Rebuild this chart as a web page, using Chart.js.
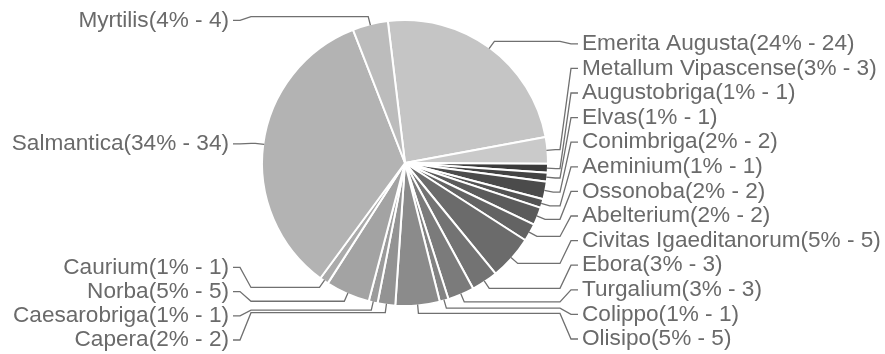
<!DOCTYPE html>
<html>
<head>
<meta charset="utf-8">
<script src="https://cdn.jsdelivr.net/npm/chart.js@4.4.1/dist/chart.umd.min.js"></script>
<style>
  html, body { margin: 0; padding: 0; background: #ffffff; }
  canvas { display: block; }
</style>
</head>
<body>
<canvas id="c" width="885" height="354"></canvas>
<script>
// Slices, clockwise from the top
const categories = [
  'Emerita Augusta', 'Metallum Vipascense', 'Augustobriga', 'Elvas', 'Conimbriga',
  'Aeminium', 'Ossonoba', 'Abelterium', 'Civitas Igaeditanorum', 'Ebora',
  'Turgalium', 'Colippo', 'Olisipo', 'Capera', 'Caesarobriga',
  'Norba', 'Caurium', 'Salmantica', 'Myrtilis'
];
const values = [24, 3, 1, 1, 2, 1, 2, 2, 5, 3, 3, 1, 5, 2, 1, 5, 1, 34, 4];
const sliceColors = [
  '#c5c5c5', '#cacaca', '#3b3b3b', '#434343', '#4b4b4b',
  '#535353', '#5b5b5b', '#636363', '#6b6b6b', '#737373',
  '#7b7b7b', '#838383', '#8b8b8b', '#939393', '#9b9b9b',
  '#a3a3a3', '#ababab', '#b3b3b3', '#bcbcbc'
];

const total = values.reduce((a, b) => a + b, 0);
const labelFont = '22.6px "Liberation Sans", Arial, sans-serif';
const labelColor = '#6a6a6a';
const lineColor = '#707070';

function labelText(i) {
  const pct = Math.round(values[i] / total * 100);
  return categories[i] + '(' + pct + '% - ' + values[i] + ')';
}

// Stack labels on one side: keep order, enforce spacing, clamp to limits
function stack(items, gap, top, bottom) {
  items.sort((a, b) => a.want - b.want);
  let prev = -Infinity;
  items.forEach(it => { it.ly = Math.max(it.want, prev + gap, top); prev = it.ly; });
  let next = Infinity;
  for (let k = items.length - 1; k >= 0; k--) {
    const it = items[k];
    it.ly = Math.min(it.ly, next - gap, bottom);
    next = it.ly;
  }
}

const calloutPlugin = {
  id: 'callouts',
  afterDatasetsDraw(chart) {
    const ctx = chart.ctx;
    const meta = chart.getDatasetMeta(0);
    const items = meta.data.map((arc, i) => {
      const p = arc.getProps(['x', 'y', 'startAngle', 'endAngle', 'outerRadius'], true);
      const mid = (p.startAngle + p.endAngle) / 2;
      const c = Math.cos(mid), s = Math.sin(mid);
      const R = p.outerRadius;
      return {
        i,
        ax: p.x + c * (R - 1), ay: p.y + s * (R - 1),
        bx: p.x + c * (R + 8), by: p.y + s * (R + 8),
        want: p.y + s * (R + 4),
        right: c >= 0
      };
    });
    const rightSide = items.filter(it => it.right);
    const leftSide = items.filter(it => !it.right);
    stack(rightSide, 24.6, 20, 339);
    stack(leftSide, 24.2, 20, 340);

    ctx.save();
    ctx.strokeStyle = lineColor;
    ctx.lineWidth = 1.3;
    ctx.font = labelFont;
    ctx.fillStyle = labelColor;
    ctx.textBaseline = 'middle';

    rightSide.forEach(it => {
      ctx.beginPath();
      ctx.moveTo(it.ax, it.ay);
      ctx.lineTo(it.bx, it.by);
      ctx.lineTo(560, it.by);
      ctx.lineTo(571, it.ly);
      ctx.lineTo(578, it.ly);
      ctx.stroke();
      ctx.textAlign = 'left';
      ctx.fillText(labelText(it.i), 582, it.ly);
    });
    leftSide.forEach(it => {
      ctx.beginPath();
      ctx.moveTo(it.ax, it.ay);
      ctx.lineTo(it.bx, it.by);
      ctx.lineTo(251, it.by);
      ctx.lineTo(240, it.ly);
      ctx.lineTo(233, it.ly);
      ctx.stroke();
      ctx.textAlign = 'right';
      ctx.fillText(labelText(it.i), 229, it.ly);
    });
    ctx.restore();
  }
};

new Chart(document.getElementById('c'), {
  type: 'pie',
  data: {
    labels: categories,
    datasets: [{
      data: values,
      backgroundColor: sliceColors,
      borderColor: '#ffffff',
      borderWidth: 2
    }]
  },
  options: {
    responsive: false,
    animation: false,
    rotation: -6.9,
    layout: { padding: { left: 261, right: 336, top: 19, bottom: 47 } },
    plugins: {
      legend: { display: false },
      tooltip: { enabled: false }
    }
  },
  plugins: [calloutPlugin]
});
</script>
</body>
</html>
